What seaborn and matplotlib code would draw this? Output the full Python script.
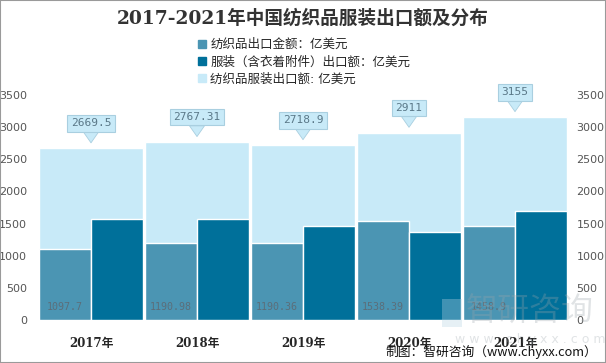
import numpy as np
import pandas as pd
import matplotlib
matplotlib.use('Agg')
import matplotlib.pyplot as plt
from matplotlib.patches import Rectangle
from matplotlib.lines import Line2D
import seaborn as sns

# ── data ─────────────────────────────────────────────
years = ['2017年', '2018年', '2019年', '2020年', '2021年']
total = [2669.5, 2767.31, 2718.9, 2911, 3155]
textile = [1097.7, 1190.98, 1190.36, 1538.39, 1458.9]
apparel = [1572, 1576, 1465, 1373, 1696]
total_labels = ['2669.5', '2767.31', '2718.9', '2911', '3155']
textile_labels = ['1097.7', '1190.98', '1190.36', '1538.39', '1458.9']
series_names = ['纺织品出口金额：亿美元', '服装（含衣着附件）出口额：亿美元', '纺织品服装出口额: 亿美元']

c_light = '#c8eaf8'
c_mid = '#4b95b3'
c_dark = '#00709a'

sns.set_style('white')
plt.rcParams['font.family'] = ['DejaVu Sans', 'Noto Sans CJK SC']

fig = plt.figure(figsize=(6.06, 3.63), dpi=100)
ax = fig.add_axes([38 / 606, 43 / 363, 530 / 606, 225 / 363])

# ── bars ─────────────────────────────────────────────
df_tot = pd.DataFrame({'year': years, 'value': total})
sns.barplot(data=df_tot, x='year', y='value', color=c_light, width=0.99,
            saturation=1, ax=ax, zorder=1)

df_parts = pd.DataFrame({
    'year': years * 2,
    'value': textile + apparel,
    'kind': [series_names[0]] * 5 + [series_names[1]] * 5,
})
sns.barplot(data=df_parts, x='year', y='value', hue='kind',
            palette=[c_mid, c_dark], width=0.99, saturation=1,
            dodge=True, legend=False, ax=ax, zorder=2)

ax.set_xlim(-0.5, 4.5)
ax.set_ylim(0, 3500)
ax.set_yticks(np.arange(0, 3501, 500))
ax.set_xlabel('')
ax.set_ylabel('')
for s in ax.spines.values():
    s.set_visible(False)
ax.tick_params(axis='y', length=0, pad=8, labelsize=8, labelcolor='#555555')
ax.tick_params(axis='x', length=0, pad=12)
for lbl in ax.get_xticklabels():
    lbl.set_fontfamily(['DejaVu Serif', 'Noto Sans CJK SC'])
    lbl.set_fontweight('bold')
    lbl.set_fontsize(8.5)

ax2 = ax.twinx()
ax2.set_ylim(0, 3500)
ax2.set_yticks(np.arange(0, 3501, 500))
for s in ax2.spines.values():
    s.set_visible(False)
ax2.tick_params(axis='y', length=0, pad=6, labelsize=8, labelcolor='#555555')

# callouts for totals
for i, (v, t) in enumerate(zip(total, total_labels)):
    ax.annotate(t, xy=(i, v), xytext=(0, 18), textcoords='offset points',
                ha='center', va='center', fontsize=8,
                family='DejaVu Sans Mono', color='#5a7888', zorder=5,
                bbox=dict(boxstyle='square,pad=0.3', fc=c_light, ec='#a9cfe0', lw=0.8),
                arrowprops=dict(arrowstyle='wedge,tail_width=0.9', fc=c_light,
                                ec='#a9cfe0', lw=0.6, mutation_scale=12,
                                shrinkA=0, shrinkB=4))

# textile labels inside bars
for i, t in enumerate(textile_labels):
    ax.text(i - 0.2475, 200, t, ha='center', va='center', fontsize=7.2,
            family='DejaVu Sans Mono', color='#5b6e7a', zorder=5)

# legend
handles = [Line2D([], [], marker='s', ls='', ms=6, color=c) for c in (c_mid, c_dark, c_light)]
fig.legend(handles, series_names, loc='upper left',
           bbox_to_anchor=(198 / 606, 1 - 38 / 363), frameon=False,
           fontsize=9, handlelength=0.6, handletextpad=0.4, labelspacing=0.35,
           borderaxespad=0, borderpad=0)

fig.text(0.5, 1 - 18 / 363, '2017-2021年中国纺织品服装出口额及分布', ha='center', va='center',
         fontsize=13.4, fontweight='bold', color='#333333',
         family=['DejaVu Serif', 'Noto Sans CJK SC'])

# watermark
fig.patches.append(Rectangle((442 / 606, 1 - 327 / 363), 20 / 606, 28 / 363,
                             transform=fig.transFigure, fc='#b8d4e4',
                             ec='none', alpha=0.35))
fig.text(530 / 606, 1 - 311 / 363, '智研咨询', ha='center', va='center', fontsize=23,
         color='#9aa4aa', alpha=0.3, family=['Noto Sans CJK SC'])
fig.text(530 / 606, 1 - 340 / 363, 'w w w . c h y x x . c o m', ha='center', va='center',
         fontsize=9, color='#9aa4aa', alpha=0.3)

fig.text(597 / 606, 1 - 352 / 363, '制图：智研咨询（www.chyxx.com）', ha='right', va='center',
         fontsize=9.2, color='#111111', family=['Noto Sans CJK SC', 'DejaVu Sans'])

fig.patches.append(Rectangle((0, 0), 1, 1, transform=fig.transFigure, fill=False,
                             ec='#9a9a9a', lw=1.5))

fig.savefig('out.png', dpi=100)
